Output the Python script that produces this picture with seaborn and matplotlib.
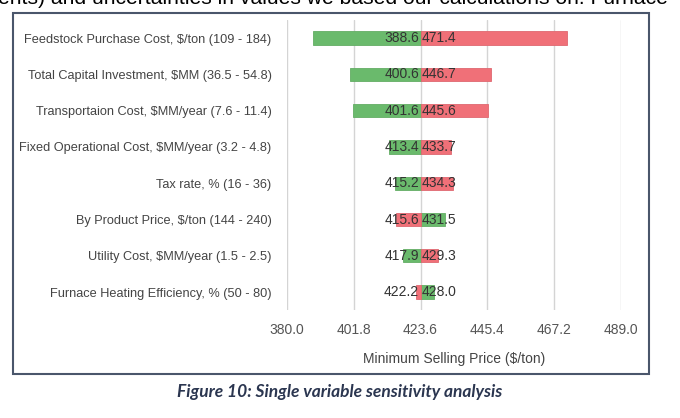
import matplotlib.pyplot as plt
import matplotlib.patches as mpatches
import pandas as pd
import seaborn as sns

# data
labels = ['Feedstock Purchase Cost, $/ton (109 - 184)',
          'Total Capital Investment, $MM (36.5 - 54.8)',
          'Transportaion Cost, $MM/year (7.6 - 11.4)',
          'Fixed Operational Cost, $MM/year (3.2 - 4.8)',
          'Tax rate, % (16 - 36)',
          'By Product Price, $/ton (144 - 240)',
          'Utility Cost, $MM/year (1.5 - 2.5)',
          'Furnace Heating Efficiency, % (50 - 80)']
msp_low_input = [388.6, 400.6, 401.6, 413.4, 415.2, 431.5, 417.9, 428.0]
msp_high_input = [471.4, 446.7, 445.6, 433.7, 434.3, 415.6, 429.3, 422.2]
base_msp = 423.6
ticks = [380.0, 401.8, 423.6, 445.4, 467.2, 489.0]

sns.set_theme(style="white")
plt.rcParams['font.family'] = ['Liberation Sans', 'DejaVu Sans']

rows = []
for lab, lo, hi in zip(labels, msp_low_input, msp_high_input):
    rows.append({'label': lab, 'case': 'low', 'msp': lo, 'delta': lo - base_msp})
    rows.append({'label': lab, 'case': 'high', 'msp': hi, 'delta': hi - base_msp})
df = pd.DataFrame(rows)

fig = plt.figure(figsize=(6.8, 4.18), dpi=100)
ax = fig.add_axes([0.422, 0.258, 0.491, 0.694])

sns.barplot(data=df, x='delta', y='label', hue='case', order=labels,
            palette={'low': '#6aba6c', 'high': '#f07078'}, dodge=False,
            saturation=1, left=base_msp, width=0.37, linewidth=0.6,
            legend=False, ax=ax, errorbar=None)
for p in ax.patches:
    fc = p.get_facecolor()
    p.set_edgecolor((fc[0] * 0.93, fc[1] * 0.93, fc[2] * 0.93, 1))

# value labels at the base of each bar
for i, lab in enumerate(labels):
    for v in (msp_low_input[i], msp_high_input[i]):
        if v < base_msp:
            ax.text(base_msp - 0.5, i, f'{v:.1f}', ha='right', va='center',
                    fontsize=10, color='#333333')
        else:
            ax.text(base_msp + 0.5, i, f'{v:.1f}', ha='left', va='center',
                    fontsize=10, color='#333333')

ax.set_xlim(380, 489)
ax.set_ylim(len(labels) - 0.5, -0.5)
ax.set_xticks(ticks)
ax.set_xticklabels([f'{t:.1f}' for t in ticks])
ax.grid(axis='x', color='#d4d4d4', linewidth=1)
ax.grid(axis='y', visible=False)
for s in ax.spines.values():
    s.set_visible(False)
ax.tick_params(axis='both', length=0, colors='#444444')
ax.tick_params(axis='x', pad=9, labelsize=10, colors='#555555')
ax.tick_params(axis='y', pad=11, labelsize=9.2)
ax.set_ylabel('')
ax.set_xlabel('Minimum Selling Price ($/ton)', fontsize=10, color='#444444', labelpad=11)

# frame around the chart
fig.patches.append(mpatches.Rectangle((13 / 680, 1 - 374 / 418), 636 / 680, 361 / 418,
                                      transform=fig.transFigure, fill=False,
                                      edgecolor='#4a566b', linewidth=1.5))

fig.text(0.5, 1 - 392 / 418, 'Figure 10: Single variable sensitivity analysis',
         ha='center', va='center', fontsize=12.5, fontweight='bold', style='italic',
         color='#2b3650', family=['Lato', 'DejaVu Sans'])
fig.text(-0.003, 1 - 4 / 418,
         'ents) and uncertainties in values we based our calculations on. Furnace',
         ha='left', va='baseline', fontsize=15.2, color='black', family=['Liberation Sans', 'DejaVu Sans'])

fig.savefig('out.png', dpi=100)
